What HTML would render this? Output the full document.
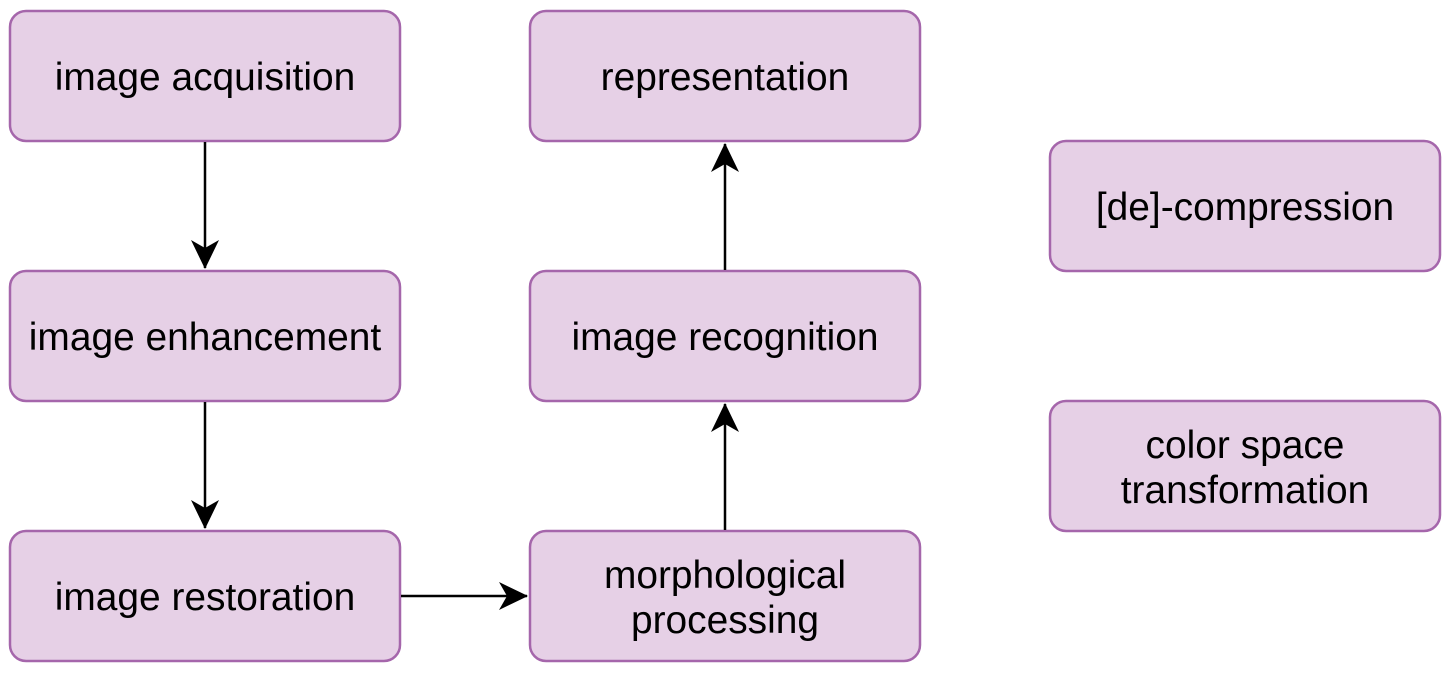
<!DOCTYPE html>
<html><head><style>
html,body{margin:0;padding:0;background:#fff;}
text{font-family:"Liberation Sans",Arial,sans-serif;font-size:38.9px;fill:#000;text-anchor:middle;}
</style></head><body>
<svg width="1454" height="674" viewBox="0 0 1454 674" xmlns="http://www.w3.org/2000/svg">
<defs>
<marker id="a" markerWidth="30" markerHeight="30" refX="28" refY="15" orient="auto" markerUnits="userSpaceOnUse">
<path d="M0,1 L29,15 L0,29 L8,15 Z" fill="#000"/>
</marker>
</defs>
<g fill="#e6d0e6" stroke="#a566ab" stroke-width="2.5">
<rect x="10" y="11" width="390" height="130" rx="16"/>
<rect x="10" y="271" width="390" height="130" rx="16"/>
<rect x="10" y="531" width="390" height="130" rx="16"/>
<rect x="530" y="11" width="390" height="130" rx="16"/>
<rect x="530" y="271" width="390" height="130" rx="16"/>
<rect x="530" y="531" width="390" height="130" rx="16"/>
<rect x="1050" y="141" width="390" height="130" rx="16"/>
<rect x="1050" y="401" width="390" height="130" rx="16"/>
</g>
<g stroke="#000" stroke-width="2.5" fill="none">
<line x1="205" y1="142" x2="205" y2="268" marker-end="url(#a)"/>
<line x1="205" y1="402" x2="205" y2="528" marker-end="url(#a)"/>
<line x1="401" y1="596" x2="527" y2="596" marker-end="url(#a)"/>
<line x1="725" y1="530" x2="725" y2="404" marker-end="url(#a)"/>
<line x1="725" y1="270" x2="725" y2="144" marker-end="url(#a)"/>
</g>
<text x="205" y="90">image acquisition</text>
<text x="205" y="350">image enhancement</text>
<text x="205" y="610">image restoration</text>
<text x="725" y="90">representation</text>
<text x="725" y="350">image recognition</text>
<text x="725" y="588">morphological</text>
<text x="725" y="633">processing</text>
<text x="1245" y="220">[de]-compression</text>
<text x="1245" y="458">color space</text>
<text x="1245" y="503">transformation</text>
</svg>
</body></html>
